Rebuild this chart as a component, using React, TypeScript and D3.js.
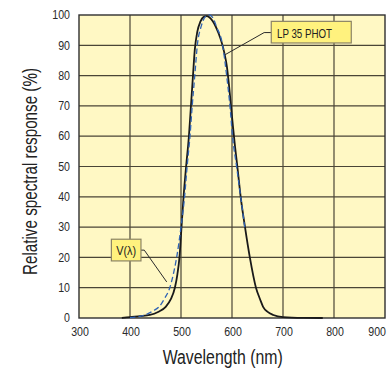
import * as d3 from 'd3';

const xTicks = [300, 400, 500, 600, 700, 800, 900];
const yTicks = [0, 10, 20, 30, 40, 50, 60, 70, 80, 90, 100];

// LP 35 PHOT response (solid)
const lpWave = [384, 400, 420, 439, 455, 470, 480, 488, 493, 497, 501, 505, 510, 515.5, 519.5, 523.5, 527, 532, 538, 544, 550, 556, 562, 568, 574, 580, 585, 590, 594, 598, 602, 606, 610.5, 617, 625.5, 635, 647, 655, 661, 670, 681, 700, 740, 778];
const lpValue = [0, 0.3, 0.6, 1, 2, 3.7, 6.2, 10, 14.5, 20, 30, 40, 50, 60, 70, 80, 88.5, 94.5, 97.8, 99.3, 99.6, 99.2, 98, 96.2, 93.8, 90.8, 87.5, 83, 77, 70, 63, 56.5, 50, 40, 30, 20, 10, 6.2, 3.7, 2, 1, 0.3, 0.05, 0];

// V(lambda) (dashed)
const vWave = [400, 429, 445, 457, 468, 478, 485, 491.5, 500, 507, 512, 517.6, 522, 527, 532, 540, 548, 555, 562, 570, 581.6, 589.5, 596, 601, 609, 617, 625];
const vValue = [0.1, 1, 2.3, 3.7, 6.5, 10, 14.5, 20, 30, 40, 50, 60, 70, 80, 90, 96.5, 99.5, 100, 99.2, 96, 90, 80, 70, 60, 50, 40, 30];

const font = "'Liberation Sans', Arial, sans-serif";

export default function App() {
  const width = 389;
  const height = 370;
  const m = { left: 79, top: 15, right: 4, bottom: 52 };
  const x = d3.scaleLinear().domain([300, 900]).range([m.left, width - m.right]);
  const y = d3.scaleLinear().domain([0, 100]).range([height - m.bottom, m.top]);

  const line = d3.line<[number, number]>()
    .x(d => x(d[0]))
    .y(d => y(d[1]))
    .curve(d3.curveMonotoneX);

  const lp = lpWave.map((w, i) => [w, lpValue[i]] as [number, number]);
  const v = vWave.map((w, i) => [w, vValue[i]] as [number, number]);

  const gridColor = '#4a4536';
  const digitW = 5.9;

  return (
    <svg width={width} height={height} style={{ position: 'absolute', left: 0, top: 0, fontFamily: font }}>
      <rect x={0} y={0} width={width} height={height} fill="#ffffff" />
      <rect x={x(300)} y={y(100)} width={x(900) - x(300)} height={y(0) - y(100)} fill="#fff8c4" />
      {xTicks.slice(1, -1).map(t => (
        <line key={'vx' + t} x1={x(t)} x2={x(t)} y1={y(0)} y2={y(100)} stroke={gridColor} strokeWidth={1.2} />
      ))}
      {yTicks.slice(1, -1).map(t => (
        <line key={'hy' + t} x1={x(300)} x2={x(900)} y1={y(t)} y2={y(t)} stroke={gridColor} strokeWidth={1.2} />
      ))}
      <rect x={x(300)} y={y(100)} width={x(900) - x(300)} height={y(0) - y(100)} fill="none" stroke="#2f2f2f" strokeWidth={1.4} />

      <path d={line(lp) || ''} fill="none" stroke="#1a1a1a" strokeWidth={1.8} />
      <path d={line(v) || ''} fill="none" stroke="#2f63b5" strokeWidth={1.3} strokeDasharray="5.5,3" />

      {yTicks.map(t => (
        <text key={'yl' + t} x={x(300) - 9} y={y(t)} dy="0.35em" textAnchor="end" fontSize={12}
          textLength={String(t).length * digitW} lengthAdjust="spacingAndGlyphs" fill="#2a2a2a">{t}</text>
      ))}
      {xTicks.map(t => (
        <text key={'xl' + t} x={t === 900 ? width - 3 : x(t) + 1} y={336} textAnchor={t === 900 ? 'end' : 'middle'} fontSize={12.5}
          textLength={String(t).length * digitW} lengthAdjust="spacingAndGlyphs" fill="#2a2a2a">{t}</text>
      ))}
      <text x={222.7} y={364} textAnchor="middle" fontSize={19.5} textLength={120} lengthAdjust="spacingAndGlyphs" fill="#222">Wavelength (nm)</text>
      <text transform={`translate(37,${171.5}) rotate(-90)`} textAnchor="middle" fontSize={19.5} textLength={207} lengthAdjust="spacingAndGlyphs" fill="#222">Relative spectral response (%)</text>

      {/* LP 35 PHOT callout */}
      <polyline points={`${x(586.5)},${y(86.9)} ${x(663)},${y(94.2)} ${x(677)},${y(94.2)}`} fill="none" stroke="#2a2a2a" strokeWidth={1} />
      <rect x={x(677)} y={y(97.9)} width={80} height={21.6} fill="#fff27e" stroke="#8c8466" strokeWidth={1.2} />
      <text x={x(677) + 5.7} y={37.7} fontSize={13} textLength={55} lengthAdjust="spacingAndGlyphs" fill="#222">LP 35 PHOT</text>

      {/* V(lambda) callout */}
      <polyline points={`${x(472)},${y(11.9)} ${x(428)},${y(22.4)} ${x(421.5)},${y(22.4)}`} fill="none" stroke="#2a2a2a" strokeWidth={1} />
      <rect x={x(363.5)} y={y(26)} width={x(421.5) - x(363.5)} height={21.7} fill="#fff27e" stroke="#8c8466" strokeWidth={1.2} />
      <text x={(x(363.5) + x(421.5)) / 2} y={255} textAnchor="middle" fontSize={13} textLength={20} lengthAdjust="spacingAndGlyphs" fill="#222">V(λ)</text>
    </svg>
  );
}
